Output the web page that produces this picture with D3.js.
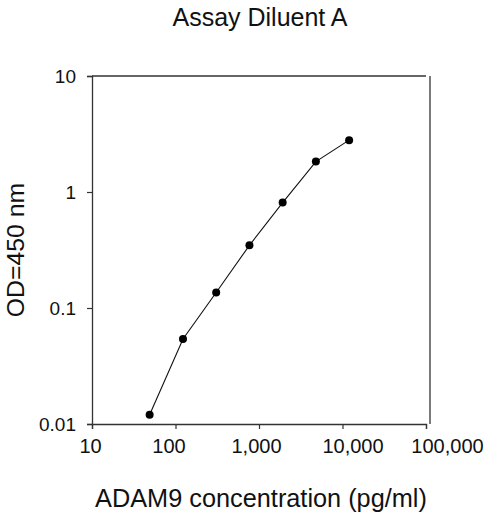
<!DOCTYPE html>
<html>
<head>
<meta charset="utf-8">
<script src="https://cdn.jsdelivr.net/npm/d3@7"></script>
<style>
  body { margin: 0; background: #fff; }
  svg text { font-family: "Liberation Sans", Arial, sans-serif; fill: #111; }
</style>
</head>
<body>
<div id="chart"></div>
<script>
// concentration (pg/ml) and OD readings
const concentrations = [49, 123, 307, 768, 1920, 4800, 12000];
const odValues = [0.012, 0.054, 0.136, 0.347, 0.81, 1.83, 2.8];
const xTicks = [10, 100, 1000, 10000, 100000];
const yTicks = [0.01, 0.1, 1, 10];

const width = 500;
const height = 520;
const margin = { top: 76, right: 74, bottom: 96, left: 92 };

// the source places its x tick labels a little off the ticks
const xLabelShift = [-2, -7, -3, 10, 21];

const svg = d3.select('#chart').append('svg')
  .attr('width', width)
  .attr('height', height);

const x = d3.scaleLog()
  .domain([10, 100000])
  .range([margin.left, width - margin.right]);

const y = d3.scaleLog()
  .domain([0.01, 10])
  .range([height - margin.bottom, margin.top]);

const axisColour = '#333';

// x axis
const xAxis = svg.append('g')
  .attr('transform', `translate(0,${height - margin.bottom})`)
  .call(d3.axisBottom(x).tickValues(xTicks).tickFormat(d3.format(',')).tickSize(5).tickPadding(6));

// y axis
const yAxis = svg.append('g')
  .attr('transform', `translate(${margin.left},0)`)
  .call(d3.axisLeft(y).tickValues(yTicks).tickFormat(d => String(d)).tickSize(5).tickPadding(11));

[xAxis, yAxis].forEach((g) => {
  g.select('.domain').attr('stroke', axisColour).attr('stroke-width', 1.3);
  g.selectAll('.tick line').attr('stroke', axisColour).attr('stroke-width', 1.2);
  g.selectAll('.tick text').attr('fill', '#111');
});
yAxis.selectAll('.tick text').attr('font-size', 19);
xAxis.selectAll('.tick text')
  .attr('font-size', 20)
  .attr('dy', '0.9em')
  .attr('dx', (d, i) => xLabelShift[i]);

// top border and the offset right border
svg.append('line')
  .attr('x1', margin.left).attr('x2', width - margin.right)
  .attr('y1', margin.top).attr('y2', margin.top)
  .attr('stroke', axisColour).attr('stroke-width', 1.3);
svg.append('line')
  .attr('x1', width - margin.right + 4).attr('x2', width - margin.right + 4)
  .attr('y1', margin.top).attr('y2', height - margin.bottom)
  .attr('stroke', axisColour).attr('stroke-width', 1.3);

// data
const pts = concentrations.map((c, i) => [c, odValues[i]]);
const line = d3.line().x(d => x(d[0])).y(d => y(d[1]));

svg.append('path')
  .datum(pts)
  .attr('d', line)
  .attr('fill', 'none')
  .attr('stroke', '#111')
  .attr('stroke-width', 1.1);

svg.selectAll('circle.pt')
  .data(pts)
  .enter().append('circle')
  .attr('class', 'pt')
  .attr('cx', d => x(d[0]))
  .attr('cy', d => y(d[1]))
  .attr('r', 4)
  .attr('fill', '#000');

// titles
svg.append('text')
  .attr('x', 260).attr('y', 26)
  .attr('text-anchor', 'middle')
  .attr('font-size', 25)
  .text('Assay Diluent A');

svg.append('text')
  .attr('x', 261).attr('y', 507)
  .attr('text-anchor', 'middle')
  .attr('font-size', 25.3)
  .text('ADAM9 concentration (pg/ml)');

svg.append('text')
  .attr('transform', 'translate(24,250) rotate(-90)')
  .attr('text-anchor', 'middle')
  .attr('font-size', 24.8)
  .text('OD=450 nm');
</script>
</body>
</html>
